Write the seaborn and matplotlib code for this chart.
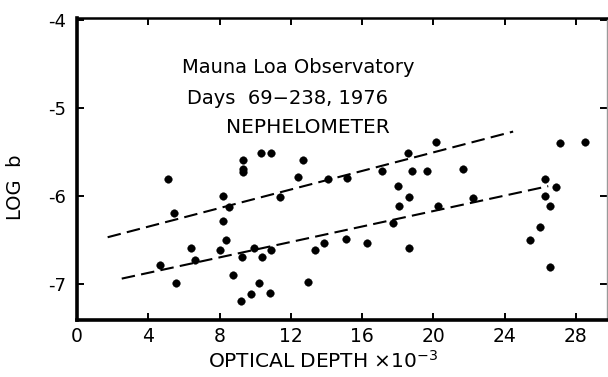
import matplotlib
matplotlib.use("Agg")
import matplotlib.pyplot as plt
import seaborn as sns
import pandas as pd

# Optical depth (x 10^-3) and log of nephelometer scattering coefficient
optical_depth = [
    5.12, 5.43, 4.66, 5.56, 6.40, 6.64, 8.18, 8.53, 8.21, 8.34,
    8.02, 8.75, 9.32, 9.32, 9.32, 9.24, 9.19, 9.76, 10.23, 9.95,
    10.38, 10.89, 10.33, 10.87, 10.83, 11.39, 12.39, 12.67, 12.94, 13.34,
    13.88, 14.10, 15.10, 15.17, 16.26, 17.10, 17.72, 18.00, 18.09, 18.59,
    18.63, 18.63, 18.82, 19.66, 20.13, 20.27, 21.68, 22.24, 25.43, 26.00,
    26.26, 26.26, 26.54, 26.53, 26.87, 27.10, 28.51,
]
log_b = [
    -5.81, -6.20, -6.78, -6.99, -6.59, -6.73, -6.00, -6.13, -6.29, -6.50,
    -6.61, -6.90, -5.59, -5.69, -5.73, -6.69, -7.19, -7.11, -6.99, -6.59,
    -6.70, -6.61, -5.51, -5.51, -7.10, -6.01, -5.79, -5.59, -6.98, -6.61,
    -6.53, -5.81, -6.49, -5.80, -6.53, -5.72, -6.31, -5.89, -6.11, -5.51,
    -6.01, -6.59, -5.72, -5.72, -5.39, -6.11, -5.70, -6.03, -6.50, -6.35,
    -5.81, -6.00, -6.11, -6.81, -5.90, -5.40, -5.39,
]

# Two dashed trend lines (endpoints)
upper_x = [1.72, 24.48]
upper_y = [-6.47, -5.27]
lower_x = [2.51, 26.45]
lower_y = [-6.94, -5.89]

x_ticks = [0, 4, 8, 12, 16, 20, 24, 28]
y_ticks = [-4, -5, -6, -7]
y_tick_labels = ["-4", "-5", "-6", "-7"]

title_lines = ["Mauna Loa Observatory", "Days  69\u2212238, 1976", "NEPHELOMETER"]

sns.set_theme(style="ticks")
plt.rcParams["font.family"] = ["DejaVu Sans"]
plt.rcParams["axes.unicode_minus"] = False

fig = plt.figure(figsize=(6.08, 3.77), dpi=100)
ax = fig.add_axes([77 / 608, 1 - 320 / 377, 529.5 / 608, 302 / 377])

pts = pd.DataFrame({"depth": optical_depth, "logb": log_b})
sns.scatterplot(data=pts, x="depth", y="logb", ax=ax, color="black",
                s=30, edgecolor="black", linewidth=0.3, zorder=3)

for xs, ys in [(upper_x, upper_y), (lower_x, lower_y)]:
    sns.lineplot(x=xs, y=ys, ax=ax, color="black", linewidth=1.5,
                 dashes=False, zorder=2)
for line in ax.get_lines():
    line.set_dashes([6.5, 3])

ax.set_xlim(0, 29.72)
ax.set_ylim(-7.41, -3.98)
ax.set_xticks(x_ticks)
ax.set_xticklabels([str(t) for t in x_ticks], fontsize=13.5)
ax.set_yticks(y_ticks)
ax.set_yticklabels(y_tick_labels, fontsize=13)

ax.tick_params(axis="both", direction="in", length=5, width=1.4,
               top=True, right=True, color="black", labelcolor="black")
ax.tick_params(axis="x", pad=5)
ax.tick_params(axis="y", pad=8)

for side, lw in [("left", 2.6), ("bottom", 2.6), ("top", 1.8), ("right", 1.0)]:
    ax.spines[side].set_linewidth(lw)
    ax.spines[side].set_color("black")
ax.spines["right"].set_color("#999999")

ax.set_xlabel("OPTICAL DEPTH \u00d710$^{-3}$", fontsize=14.5, color="black")
ax.xaxis.set_label_coords(0.4655, -0.098)
ax.set_ylabel("LOG  b", fontsize=14, color="black")
ax.yaxis.set_label_coords(-0.098, 0.44)

centers = [0.417, 0.398, 0.436]
heights = [0.835, 0.735, 0.637]
sizes = [14, 14, 14.5]
for txt, cx, cy, fs in zip(title_lines, centers, heights, sizes):
    ax.text(cx, cy, txt, transform=ax.transAxes, ha="center", va="center",
            fontsize=fs, color="black")

fig.savefig("out.png", dpi=100, facecolor="white")
